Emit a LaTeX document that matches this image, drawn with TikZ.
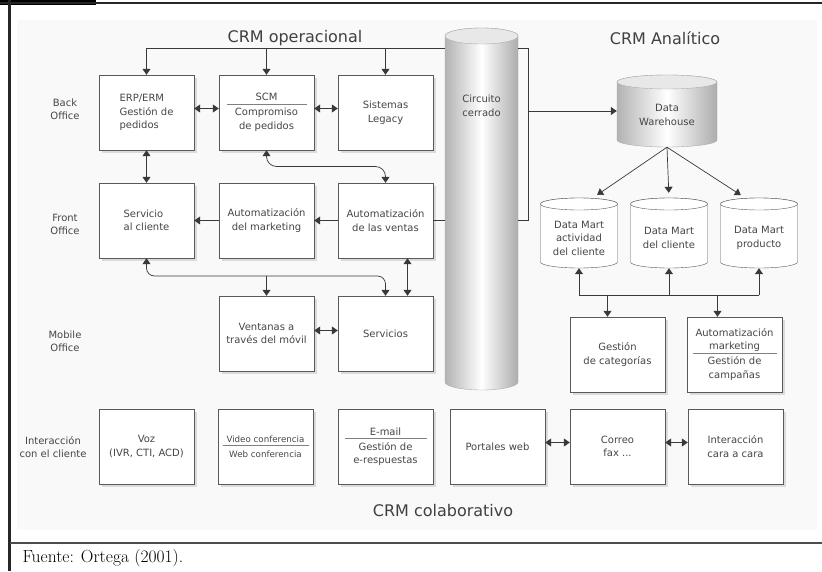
\documentclass[tikz,border=0pt]{standalone}
\usepackage{fontspec}
\setsansfont{DejaVu Sans}
\usetikzlibrary{calc,arrows.meta,shadows}

% thin rule between two texts of one box
\newcommand{\rulesep}[1]{\\[-10pt]{\color{gray}\rule{#1}{0.6pt}}\\[-2pt]}
% cylinder round a named node: name, half width, half body height, y radius, body style, top style
\newcommand{\drawcyl}[6]{%
  \path[#5] ($(#1.center)+(-#2,-#3)$) -- ++(0,2*#3)
    arc[start angle=180,end angle=360,x radius=#2pt,y radius=#4pt]
    -- ++(0,-2*#3)
    arc[start angle=0,end angle=180,x radius=#2pt,y radius=#4pt] -- cycle;
  \path[#6] ($(#1.center)+(0,-#3)$) ellipse[x radius=#2pt,y radius=#4pt];}

\tikzset{
  box/.style={draw=gray!70!black, fill=white, minimum width=95pt, minimum height=75pt,
    align=center, text=gray!55!black, font=\sffamily\fontsize{10}{13.5}\selectfont,
    drop shadow={shadow xshift=2.5pt, shadow yshift=-2.5pt, fill=gray!50}},
  lbl/.style={align=center, text=gray!55!black, font=\sffamily\fontsize{10}{13}\selectfont},
  head/.style={text=gray!50!black, font=\sffamily\fontsize{16}{18}\selectfont},
  cylnode/.style={inner sep=0pt, align=center, text=gray!55!black, font=\sffamily\fontsize{10}{13.5}\selectfont},
  conn/.style={draw=gray!45!black, line width=0.7pt},
  arr/.style={conn, -{Triangle[width=8pt,length=6pt]}},
  dbl/.style={conn, {Triangle[width=8pt,length=6pt]}-{Triangle[width=8pt,length=6pt]}},
}

\begin{document}
\begin{tikzpicture}[x=1pt,y=-1pt]
    \useasboundingbox (0,0) rectangle (822,571);

    % frame and light panel
    \fill[gray!5] (17,20) rectangle (817,530);
    \fill[black] (0,0) rectangle (96,5);
    \draw[line width=2pt, black!85] (0,3) -- (822,3);
    \draw[line width=2.5pt, black!85] (9.5,0) -- (9.5,571);
    \draw[line width=1.5pt, black!70] (9.5,543) -- (822,543);
    \node[anchor=base west, font=\fontsize{17.5}{19}\selectfont] (fuente) at (19,562) {Fuente: Ortega (2001).};

    % headings
    \node[head] (hop) at (295,38) {CRM operacional};
    \node[head] (han) at (665,38) {CRM Analítico};
    \node[head] (hcol) at (443,511) {CRM colaborativo};

    % row labels on the left
    \node[lbl] (back) at (65,109) {Back\\Office};
    \node[lbl] (front) at (65,224) {Front\\Office};
    \node[lbl] (mobile) at (65,341) {Mobile\\Office};
    \node[lbl] (inter) at (53,447) {Interacción\\con el cliente};

    % operational boxes
    \node[box, align=left] (erp) at (146.5,112.5) {ERP/ERM\\Gestión de\\pedidos};
    \node[box] (scm) at (266.5,112.5) {SCM\rulesep{80pt}Compromiso\\de pedidos};
    \node[box] (legacy) at (385.5,112.5) {Sistemas\\Legacy};
    \node[box, align=left] (serv) at (146.5,220.5) {Servicio\\al cliente};
    \node[box] (mkt) at (266.5,220.5) {Automatización\\del marketing};
    \node[box] (ventas) at (385.5,220.5) {Automatización\\de las ventas};
    \node[box] (ventanas) at (266.5,333.5) {Ventanas a\\través del móvil};
    \node[box] (servicios) at (385.5,333.5) {Servicios};

    % collaborative boxes
    \node[box] (voz) at (146.5,446.5) {Voz\\(IVR, CTI, ACD)};
    \node[box, font=\sffamily\fontsize{8.7}{13.5}\selectfont] (video) at (265.5,446.5) {Video conferencia\rulesep{86pt}Web conferencia};
    \node[box] (email) at (385.5,446.5) {E-mail\rulesep{82pt}Gestión de\\e-respuestas};
    \node[box] (portal) at (497.5,446.5) {Portales web};
    \node[box] (correo) at (617.5,446.5) {Correo\\fax ...};
    \node[box] (cara) at (735.5,446.5) {Interacción\\cara a cara};

    % analytic boxes
    \node[box] (gcat) at (617.5,354.5) {Gestión\\de categorías};
    \node[box] (amkt) at (734.5,354.5) {Automatización\\marketing\rulesep{84pt}Gestión de\\campañas};

    % closed loop cylinder
    \node[cylnode, minimum width=73pt, minimum height=362pt] (circ) at (481.5,209) {};
    \drawcyl{circ}{36.5}{173}{8}{draw=gray!65, left color=gray!60, right color=gray!65, middle color=white}{draw=gray!65, fill=gray!18}
    \node[cylnode] (circ-t) at (481.5,106) {Circuito\\cerrado};

    % data warehouse and data marts
    \node[cylnode, minimum width=100pt, minimum height=72pt] (dw) at (667,111) {};
    \drawcyl{dw}{50}{29}{7}{draw=gray!65, left color=gray!60, right color=gray!65, middle color=white}{draw=gray!65, fill=gray!18}
    \node[cylnode] (dw-t) at (667,115) {Data\\Warehouse};
    \foreach \m/\x/\t in {dm1/579/{Data Mart\\actividad\\del cliente}, dm2/669/{Data Mart\\del cliente}, dm3/759/{Data Mart\\producto}} {
      \node[cylnode, minimum width=77pt, minimum height=70pt] (\m) at (\x,233) {};
      \drawcyl{\m}{38.5}{29}{6}{draw=gray!70!black, fill=white}{draw=gray!70!black, fill=white}
      \node[cylnode] (\m-t) at (\x,238) {\t};
    }

    % bus above the operational boxes
    \coordinate (opbus) at (0,48);
    \draw[conn] (erp.north |- opbus) -- (circ.west |- opbus);
    \foreach \n in {erp,scm,legacy} \draw[arr] (\n.north |- opbus) -- (\n.north);

    % loop on the right of the cylinder
    \coordinate (rtop) at (528,48);
    \coordinate (rbot) at (528,220.5);
    \draw[conn] (circ.east |- rtop) -- (rtop) -- (rbot) -- (circ.east |- rbot);
    \draw[arr] (rtop |- dw) -- (dw.west);
    \draw[conn] (ventas.east) -- (circ.west |- ventas.east);

    % back and front office links
    \draw[dbl] ([yshift=4pt]erp.east) -- ([yshift=4pt]scm.west);
    \draw[dbl] ([yshift=4pt]scm.east) -- ([yshift=4pt]legacy.west);
    \draw[dbl] (erp.south) -- (serv.north);
    \draw[dbl, rounded corners=10pt] (scm.south) |- ($(scm.south)!.5!(ventas.north)$) -| (ventas.north);
    \draw[arr] (ventas.west) -- (mkt.east);
    \draw[arr] (mkt.west) -- (serv.east);

    % mobile office links
    \coordinate (mbus) at (0,276);
    \draw[dbl, rounded corners=8pt] (serv.south) |- (mbus -| servicios.north) -- (servicios.north);
    \draw[arr] (mbus -| ventanas.north) -- (ventanas.north);
    \draw[dbl] ([xshift=22pt]ventas.south) -- ([xshift=22pt]servicios.north);
    \draw[dbl] ([yshift=3pt]ventanas.east) -- ([yshift=3pt]servicios.west);

    % analytic links
    \foreach \m/\dx in {dm1/14,dm2/0,dm3/-14} \draw[arr, shorten >=5pt] (dw.south) -- ([xshift=\dx pt]\m.north);
    \coordinate (dmbus) at (0,295);
    \draw[conn] (dm1.south |- dmbus) -- (dm3.south |- dmbus);
    \foreach \m in {dm1,dm2,dm3} \draw[arr] (\m.south |- dmbus) -- (\m.south);
    \draw[arr] ([xshift=-10pt]gcat.north |- dmbus) -- ([xshift=-10pt]gcat.north);
    \draw[arr] ([xshift=-17pt]amkt.north |- dmbus) -- ([xshift=-17pt]amkt.north);

    % collaborative links
    \draw[dbl] ([yshift=4pt]portal.east) -- ([yshift=4pt]correo.west);
    \draw[dbl] ([yshift=4pt]correo.east) -- ([yshift=4pt]cara.west);
\end{tikzpicture}
\end{document}
